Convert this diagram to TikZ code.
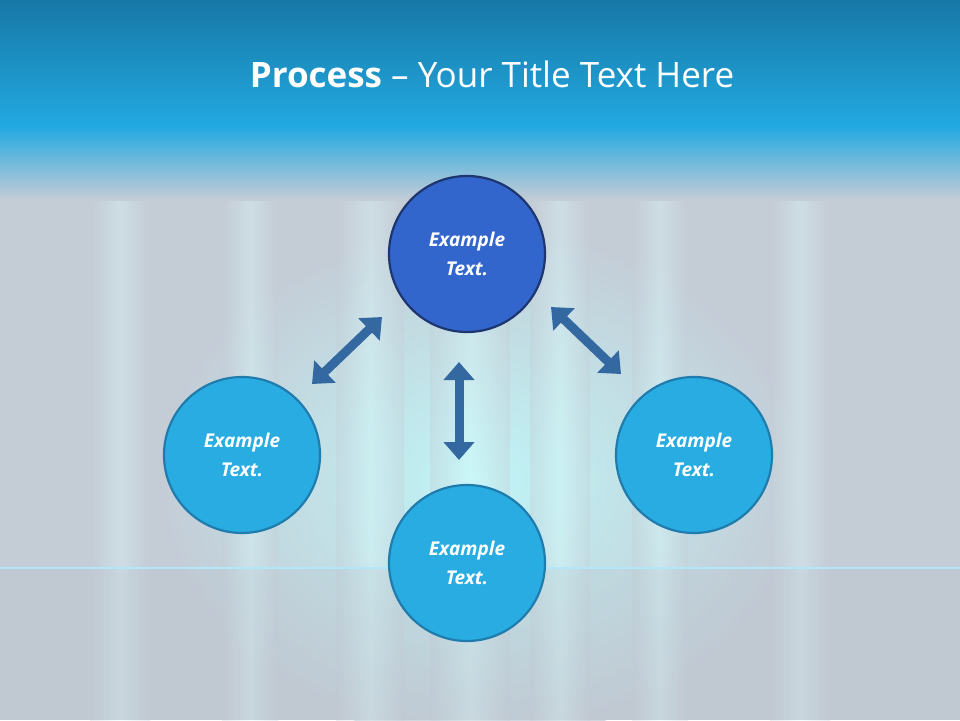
\documentclass[tikz,border=0pt]{standalone}
\usepackage{fontspec}
\setmainfont{Open Sans}
\usetikzlibrary{arrows.meta,shadings}
\definecolor{bg}{HTML}{C4CCD6}
\definecolor{bartop}{HTML}{1778A6}
\definecolor{barbot}{HTML}{22A9E1}
\definecolor{topfill}{HTML}{3366CC}
\definecolor{topedge}{HTML}{1D3670}
\definecolor{cfill}{HTML}{29ACE2}
\definecolor{cedge}{HTML}{1F7CAD}
\definecolor{arr}{HTML}{3468A0}
\tikzset{
  circ/.style={circle,minimum size=156pt,inner sep=0pt,line width=2.2pt,fill=cfill,draw=cedge,
    text=white,font=\bfseries\itshape\fontsize{19}{29}\selectfont,align=center},
  topcirc/.style={circ,fill=topfill,draw=topedge},
  dbl/.style={draw=arr,line width=9pt,{Triangle[length=18pt,width=30pt]}-{Triangle[length=18pt,width=30pt]}}
}
\begin{document}
\begin{tikzpicture}[x=1pt,y=-1pt]
\useasboundingbox (0,0) rectangle (960,720);
\fill[bg] (0,0) rectangle (960,720);
% glow
\shade[inner color=cyan!25!white,outer color=bg,opacity=0.8] (480,480) ellipse (330 and 260);
\foreach \x/\w in {120/30,250/28,370/34,470/40,560/30,660/28,800/30}{
  \shade[left color=bg,right color=bg,middle color=cyan!12!white,opacity=0.35] (\x-\w,150) rectangle (\x+\w,720);}
\fill[bg!92!black,opacity=0.2] (0,568) rectangle (960,720);
\draw[cyan!30!white,line width=1.5pt] (0,568) -- (960,568);
% title bar
\shade[top color=bartop,bottom color=barbot] (0,0) rectangle (960,126);
\shade[top color=barbot,bottom color=bg] (0,126) rectangle (960,200);
\node[text=white,font=\fontsize{35}{40}\selectfont] (title) at (492,74) {\textbf{Process} – Your Title Text Here};
% circles
\node[topcirc] (t) at (467,254) {Example\\Text.};
\node[circ] (l) at (242,455) {Example\\Text.};
\node[circ] (b) at (467,563) {Example\\Text.};
\node[circ] (r) at (694,455) {Example\\Text.};
% arrows
\coordinate (la) at (312,384); \coordinate (lb) at (382,317);
\coordinate (ra) at (551,307); \coordinate (rb) at (621,374);
\coordinate (ma) at (459,362); \coordinate (mb) at (459,460);
\draw[dbl] (la) -- (lb);
\draw[dbl] (ra) -- (rb);
\draw[dbl] (ma) -- (mb);
\end{tikzpicture}
\end{document}
